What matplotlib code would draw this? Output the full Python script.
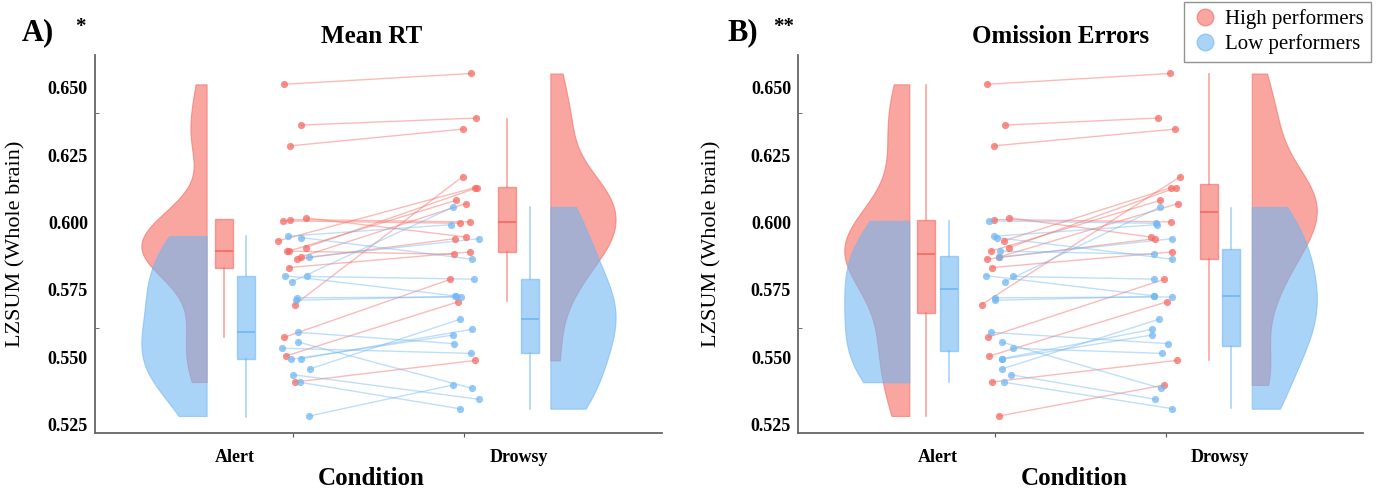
"""Raincloud plots of LZSUM for high and low performers, alert vs drowsy."""

import matplotlib

matplotlib.use("Agg")
import matplotlib.pyplot as plt
import numpy as np
from matplotlib.lines import Line2D

plt.rcParams["font.family"] = ["Liberation Serif", "DejaVu Serif"]
plt.rcParams["font.weight"] = "bold"

CONDITIONS = ["Alert", "Drowsy"]
GROUP_NAMES = ["High performers", "Low performers"]
PANEL_TITLES = ["Mean RT", "Omission Errors"]
PANEL_TAGS = ["A)", "B)"]
PANEL_STARS = ["*", "**"]
Y_TICKS = [0.525, 0.550, 0.575, 0.600, 0.625, 0.650]

# one entry per subject (34 subjects)
alert_values = [
    0.6512, 0.6361, 0.6284, 0.5696, 0.5575, 0.5505, 0.5409, 0.6006, 0.5894,
    0.6011, 0.6017, 0.5932, 0.5907, 0.5894, 0.5872, 0.5864, 0.5833,
    0.5949, 0.5944, 0.5872, 0.5803, 0.5800, 0.5781, 0.5721, 0.5712, 0.5593,
    0.5557, 0.5534, 0.5493, 0.5495, 0.5457, 0.5436, 0.5408, 0.5283,
]
drowsy_values = [
    0.6552, 0.6387, 0.6346, 0.6170, 0.5789, 0.5706, 0.5489, 0.5997, 0.5882,
    0.6002, 0.5946, 0.6129, 0.6129, 0.6082, 0.6070, 0.5940, 0.5891,
    0.5992, 0.5864, 0.5940, 0.5728, 0.5790, 0.6057, 0.5724, 0.5726, 0.5551,
    0.5386, 0.5515, 0.5583, 0.5604, 0.5641, 0.5345, 0.5310, 0.5398,
]

# 0 = high performers, 1 = low performers
group_rt = [0] * 17 + [1] * 17
group_omission = [0, 0, 0, 0, 0, 0, 0, 1, 1, 0, 0, 0, 0, 0, 0, 0, 0,
                  1, 1, 1, 1, 1, 1, 1, 1, 1, 1, 1, 1, 1, 1, 1, 1, 0]

# horizontal scatter of each dot around its condition
jitter_rt_alert = [
    -0.051, 0.052, -0.012, 0.013, -0.047, -0.041, 0.013, -0.054, -0.031,
    -0.012, 0.080, -0.085, 0.076, -0.022, 0.047, 0.023, -0.022,
    -0.027, 0.052, 0.097, -0.045, 0.085, -0.002, 0.027, 0.022, 0.033,
    0.033, -0.060, -0.008, 0.047, 0.099, 0.004, 0.041, 0.097,
]
jitter_rt_drowsy = [
    0.041, 0.070, -0.008, -0.010, -0.083, -0.037, 0.064, -0.025, -0.062,
    0.033, 0.012, 0.060, 0.076, -0.048, 0.010, -0.056, 0.035,
    -0.076, 0.045, 0.083, -0.056, 0.054, -0.066, -0.022, -0.051, -0.060,
    0.042, 0.041, -0.064, 0.042, -0.027, 0.083, -0.027, -0.066,
]
jitter_om_alert = [
    -0.046, 0.058, -0.006, -0.077, -0.039, -0.033, -0.019, -0.037, 0.029,
    -0.004, 0.085, 0.052, 0.083, -0.023, 0.025, -0.048, -0.017,
    -0.004, 0.012, 0.025, -0.052, 0.103, 0.060, 0.002, 0.002, -0.023,
    0.039, 0.103, 0.039, 0.039, 0.039, 0.091, 0.052, 0.023,
]
jitter_om_drowsy = [
    0.023, -0.045, 0.054, 0.083, -0.013, 0.004, 0.062, -0.060, -0.070,
    0.027, -0.089, 0.029, 0.058, -0.033, 0.070, -0.067, 0.035,
    -0.052, 0.037, 0.037, -0.070, -0.070, -0.037, 0.037, -0.070, 0.013,
    -0.031, -0.027, -0.081, -0.083, -0.043, -0.064, 0.037, -0.010,
]

# box stats per condition: (whislo, q1, median, q3, whishi)
rt_box_high = [(0.5575, 0.5831, 0.5894, 0.6012, 0.6012),
               (0.5710, 0.5890, 0.6002, 0.6130, 0.6385)]
rt_box_low = [(0.5280, 0.5494, 0.5594, 0.5800, 0.5949),
              (0.5310, 0.5516, 0.5642, 0.5790, 0.6056)]
om_box_high = [(0.5283, 0.5664, 0.5882, 0.6011, 0.6511),
               (0.5490, 0.5865, 0.6038, 0.6141, 0.6551)]
om_box_low = [(0.5409, 0.5524, 0.5752, 0.5876, 0.6006),
              (0.5312, 0.5542, 0.5727, 0.5900, 0.6055)]

COLORS = ["#F56961", "#71B7F3"]


def _kde_profile(values: np.ndarray) -> tuple[np.ndarray, np.ndarray]:
    """Gaussian KDE clipped to the data range (ksdensity-style bandwidth)."""
    sig = np.median(np.abs(values - np.median(values))) / 0.6745
    bw = sig * (4.0 / (3.0 * len(values))) ** 0.2
    grid = np.linspace(values.min(), values.max(), 200)
    dens = np.exp(-0.5 * ((grid[:, None] - values[None, :]) / bw) ** 2).sum(axis=1)
    return grid, dens / dens.max()


def _draw_panel(ax, groups, jit_alert, jit_drowsy, box_high, box_low) -> None:
    alert = np.array(alert_values)
    drowsy = np.array(drowsy_values)
    groups = np.array(groups)
    xa = 1 + np.array(jit_alert)
    xd = 2 + np.array(jit_drowsy)

    # half violins: alert to the left, drowsy to the right
    for g in (0, 1):
        for vals, edge, side in ((alert, 0.5, -1), (drowsy, 2.5, 1)):
            grid, dens = _kde_profile(vals[groups == g])
            ax.fill_betweenx(grid, edge, edge + side * 0.38 * dens,
                             color=COLORS[g], alpha=0.6, linewidth=0.8, zorder=1)

    # boxes
    for g, stats_list, offs in ((0, box_high, (0.60, 2.25)), (1, box_low, (0.73, 2.38))):
        stats = [dict(whislo=s[0], q1=s[1], med=s[2], q3=s[3], whishi=s[4])
                 for s in stats_list]
        ax.bxp(stats, positions=list(offs), widths=0.105, patch_artist=True,
               showfliers=False, showcaps=False,
               boxprops=dict(facecolor=COLORS[g], edgecolor=COLORS[g], alpha=0.6, linewidth=1),
               medianprops=dict(color=COLORS[g], linewidth=1.2),
               whiskerprops=dict(color=COLORS[g], alpha=0.6, linewidth=1.2),
               manage_ticks=False, zorder=2)

    # paired subject lines and dots
    for g in (0, 1):
        idx = np.where(groups == g)[0]
        for i in idx:
            ax.plot([xa[i], xd[i]], [alert[i], drowsy[i]], color=COLORS[g],
                    alpha=0.45, linewidth=1.0, zorder=3)
        ax.plot(xa[idx], alert[idx], "o", color=COLORS[g], alpha=0.75,
                markersize=5.2, markeredgewidth=0, zorder=4)
        ax.plot(xd[idx], drowsy[idx], "o", color=COLORS[g], alpha=0.75,
                markersize=5.2, markeredgewidth=0, zorder=4)

    ax.set_xlim(-0.15, 3.15)
    ax.set_ylim(0.522, 0.662)
    ax.set_yticks(Y_TICKS, labels=[f"{t:.3f}" for t in Y_TICKS])
    ax.set_yticks([0.5609, 0.6404], minor=True)
    ax.tick_params(axis="y", which="major", length=0, pad=5, labelsize=13)
    ax.tick_params(axis="y", which="minor", length=3, direction="in", color="#555555")
    ax.set_xticks([1, 2], labels=["", ""])
    ax.tick_params(axis="x", length=3, color="#555555")
    for spine in ("top", "right"):
        ax.spines[spine].set_visible(False)
    for spine in ("left", "bottom"):
        ax.spines[spine].set_color("#666666")
        ax.spines[spine].set_linewidth(1.3)

    trans = ax.get_xaxis_transform()
    ax.text(0.665, -0.066, CONDITIONS[0], transform=trans, ha="center", va="center", fontsize=13)
    ax.text(2.315, -0.066, CONDITIONS[1], transform=trans, ha="center", va="center", fontsize=13)
    ax.text(0.488, -0.12, "Condition", transform=ax.transAxes, ha="center", va="center",
            fontsize=18)


def main() -> None:
    fig = plt.figure(figsize=(13.8, 4.88), dpi=100)
    ax_a = fig.add_axes([0.0688, 0.1127, 0.4109, 0.7743])
    ax_b = fig.add_axes([0.5783, 0.1127, 0.4094, 0.7743])

    _draw_panel(ax_a, group_rt, jitter_rt_alert, jitter_rt_drowsy, rt_box_high, rt_box_low)
    _draw_panel(ax_b, group_omission, jitter_om_alert, jitter_om_drowsy, om_box_high, om_box_low)

    for ax, title, xt, ylx in ((ax_a, PANEL_TITLES[0], 0.488, -0.123),
                               (ax_b, PANEL_TITLES[1], 0.464, -0.135)):
        ax.text(xt, 1.05, title, transform=ax.transAxes, ha="center", va="center", fontsize=18)
        ax.set_ylabel("LZSUM (Whole brain)", fontsize=16)
        ax.yaxis.set_label_coords(ylx, 0.5)

    fig.text(22 / 1380, 1 - 33 / 488, PANEL_TAGS[0], ha="left", va="center", fontsize=22)
    fig.text(75 / 1380, 1 - 27 / 488, PANEL_STARS[0], ha="left", va="center", fontsize=15)
    fig.text(727 / 1380, 1 - 33 / 488, PANEL_TAGS[1], ha="left", va="center", fontsize=22)
    fig.text(773 / 1380, 1 - 27 / 488, PANEL_STARS[1], ha="left", va="center", fontsize=15)

    handles = [Line2D([], [], linestyle="none", marker="o", markersize=12, alpha=0.6,
                      markerfacecolor=c, markeredgecolor=c) for c in COLORS]
    fig.legend(handles, GROUP_NAMES, loc="upper right", bbox_to_anchor=(1371 / 1380, 486 / 488),
               borderaxespad=0, frameon=True, fancybox=False, edgecolor="#777777",
               handletextpad=0.3, borderpad=0.35, labelspacing=0.25, handlelength=1.3,
               prop={"family": "Liberation Serif", "size": 15, "weight": "normal"})

    fig.savefig("out.png", dpi=100)
    plt.close(fig)


if __name__ == "__main__":
    main()
